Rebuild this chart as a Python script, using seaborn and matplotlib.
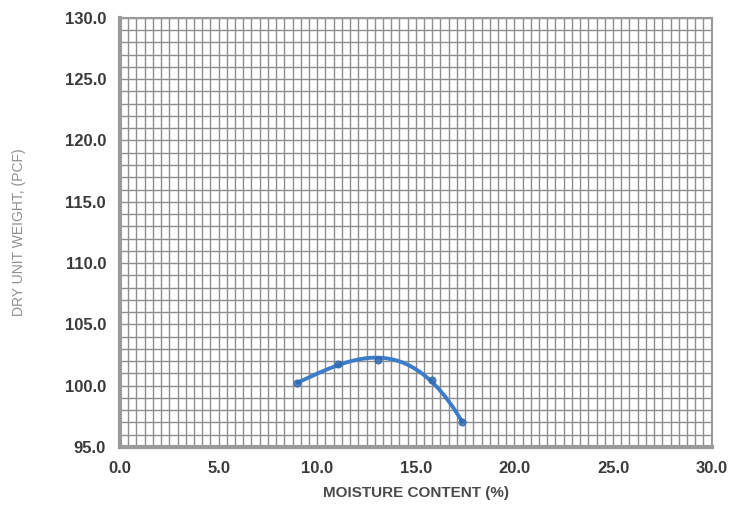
import numpy as np
import pandas as pd
import seaborn as sns
import matplotlib
matplotlib.use('Agg')
import matplotlib.pyplot as plt
from matplotlib.ticker import MultipleLocator, FormatStrFormatter

# Proctor test points
moisture = [9.0, 11.05, 13.1, 15.8, 17.35]
dry_unit_weight = [100.2, 101.8, 102.1, 100.45, 97.0]

x_label = 'MOISTURE CONTENT (%)'
y_label = 'DRY UNIT WEIGHT, (PCF)'

df = pd.DataFrame({'Moisture': moisture, 'Dry': dry_unit_weight})

sns.set_style('white')
plt.rcParams['font.family'] = ['Liberation Sans', 'DejaVu Sans']

fig = plt.figure(figsize=(7.34, 5.27), dpi=100)
ax = fig.add_axes([0.1635, 0.152, 0.806, 0.814])

# smooth curve through the points (cubic fit) plus the point markers
sns.regplot(x='Moisture', y='Dry', data=df, order=3, ci=None, truncate=True,
            scatter_kws={'marker': 'D', 's': 24, 'color': '#2f68b0', 'zorder': 4},
            line_kws={'color': '#3d7cc9', 'linewidth': 2.8, 'zorder': 3}, ax=ax)

ax.set_xlim(0, 30)
ax.set_ylim(95, 130)
ax.xaxis.set_major_locator(MultipleLocator(5))
ax.yaxis.set_major_locator(MultipleLocator(5))
ax.xaxis.set_minor_locator(MultipleLocator(5 / 12))
ax.yaxis.set_minor_locator(MultipleLocator(1))
ax.xaxis.set_major_formatter(FormatStrFormatter('%.1f'))
ax.yaxis.set_major_formatter(FormatStrFormatter('%.1f'))

ax.grid(which='both', color='#8e8e8e', linewidth=1.0)
ax.set_axisbelow(True)

for side in ['left', 'bottom']:
    ax.spines[side].set_color('#9a9a9a')
    ax.spines[side].set_linewidth(3)
for side in ['top', 'right']:
    ax.spines[side].set_color('#9a9a9a')
    ax.spines[side].set_linewidth(1.5)

ax.tick_params(which='major', length=4, width=2.5, color='#9a9a9a', direction='inout',
               labelsize=12, labelcolor='#3a3a3a', pad=8)
ax.tick_params(which='minor', length=0)
for lab in ax.get_xticklabels() + ax.get_yticklabels():
    lab.set_fontweight('bold')

ax.set_xlabel(x_label, fontsize=11, fontweight='bold', color='#4a4a4a', labelpad=7)
ax.set_ylabel(y_label, fontsize=10, color='#8f8f8f', labelpad=28)

plt.savefig('out.png', dpi=100)
